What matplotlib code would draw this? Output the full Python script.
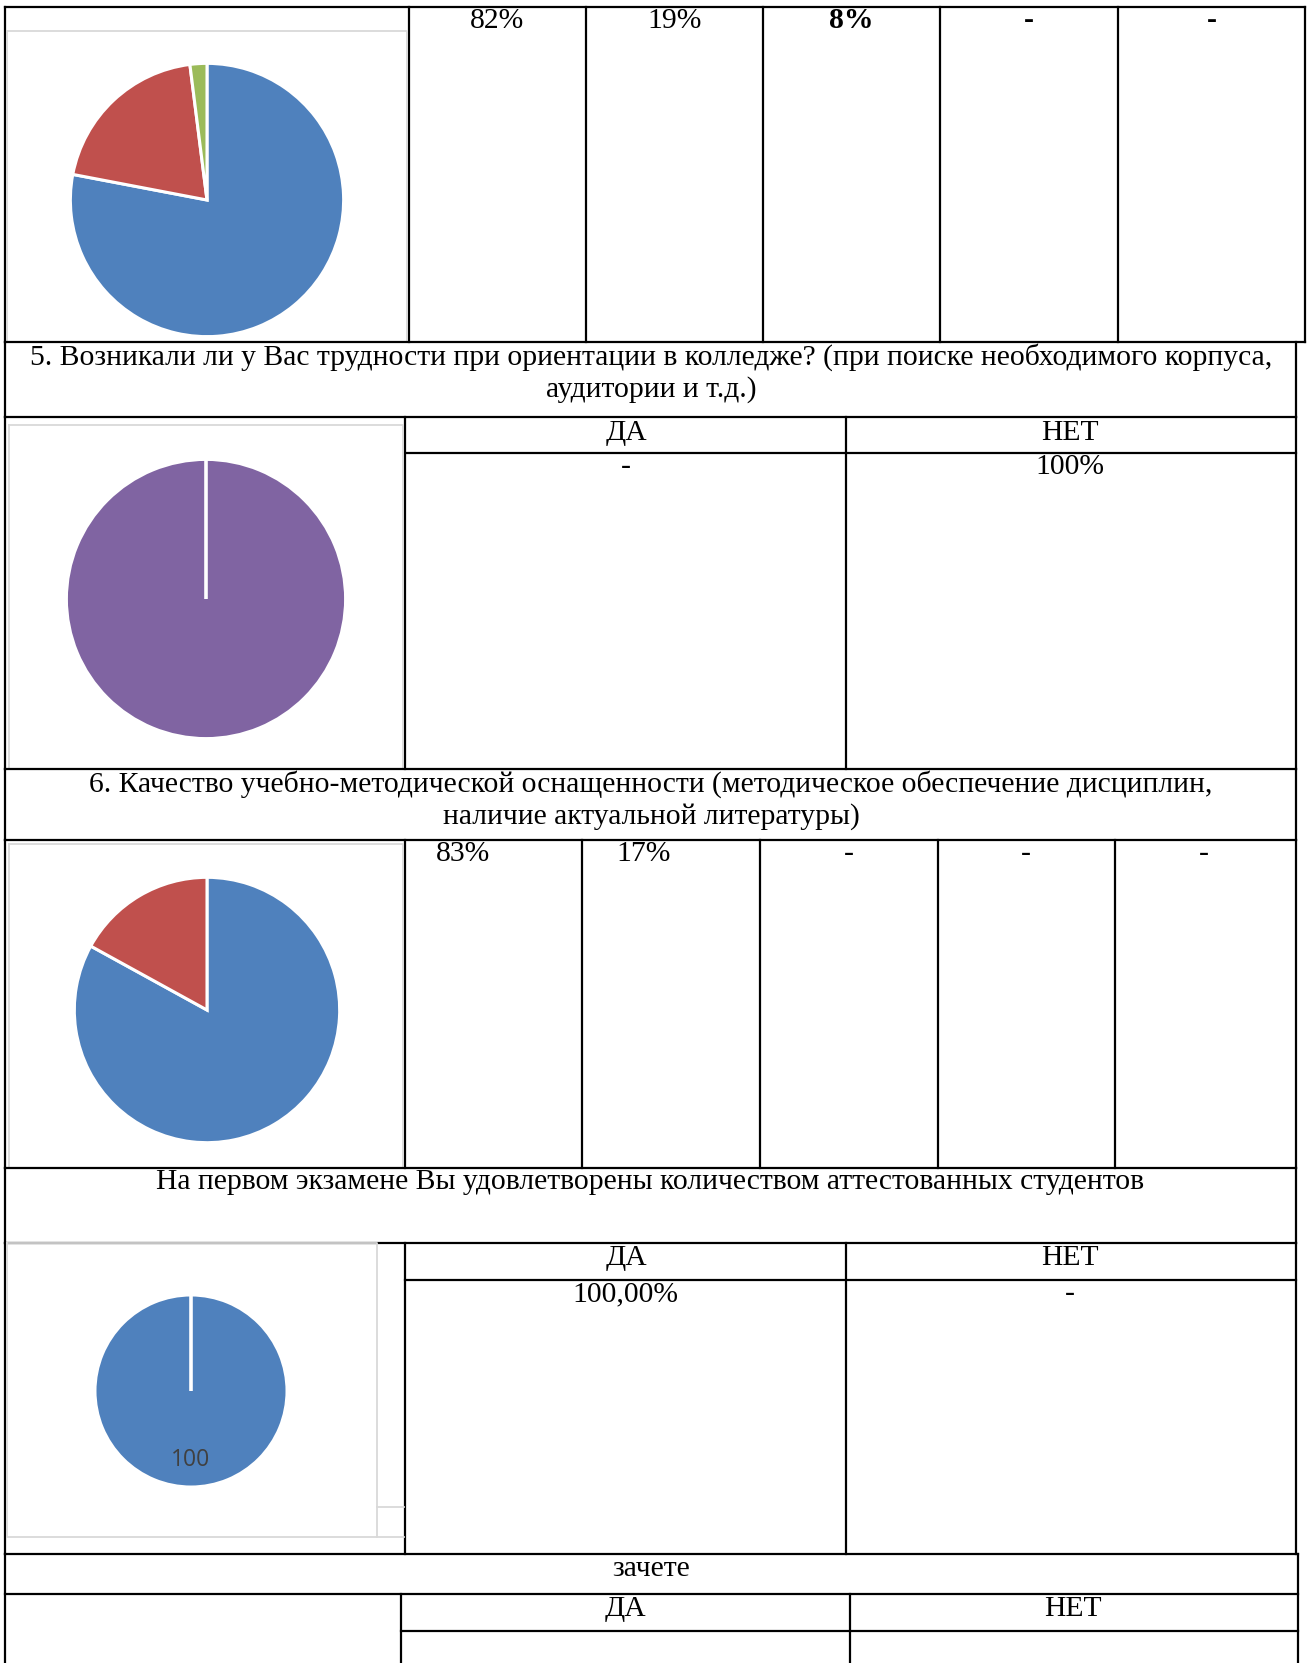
import matplotlib
matplotlib.use('Agg')
import matplotlib.pyplot as plt

W, H = 1310, 1663

# pie data
pie1_values = [78, 20, 2]
pie1_colors = ['#4F81BD', '#C0504D', '#9BBB59']
pie2_values = [100]
pie2_colors = ['#8064A2']
pie3_values = [83, 17]
pie3_colors = ['#4F81BD', '#C0504D']
pie4_values = [100]
pie4_colors = ['#4F81BD']
pie4_labels = ['100']

# table texts
row1_cells = ['82%', '19%', '8%', '-', '-']
row1_bold = [False, False, True, True, True]
q5_lines = ['5. Возникали ли у Вас трудности при ориентации в колледже? (при поиске необходимого корпуса,',
            'аудитории и т.д.)']
q5_header = ['ДА', 'НЕТ']
q5_cells = ['-', '100%']
q6_lines = ['6. Качество учебно-методической оснащенности (методическое обеспечение дисциплин,',
            'наличие актуальной литературы)']
q6_cells = ['83%', '17%', '-', '-', '-']
exam_title = 'На первом экзамене Вы удовлетворены количеством аттестованных студентов'
exam_header = ['ДА', 'НЕТ']
exam_cells = ['100,00%', '-']
credit_title = 'зачете'
credit_header = ['ДА', 'НЕТ']

SERIF = 'Liberation Serif'
FS = 21.3
LW = 1.6
GRAY = '#D9D9D9'
DY = 2  # text baseline nudge

fig = plt.figure(figsize=(W / 100, H / 100), dpi=100)
ax = fig.add_axes([0, 0, 1, 1])
ax.set_xlim(0, W)
ax.set_ylim(H, 0)
ax.axis('off')


def hline(y, x0, x1, c='black', lw=LW):
    ax.plot([x0, x1], [y, y], color=c, lw=lw, solid_capstyle='projecting')


def vline(x, y0, y1, c='black', lw=LW):
    ax.plot([x, x], [y0, y1], color=c, lw=lw, solid_capstyle='projecting')


def box(x0, y0, x1, y1, c=GRAY, lw=1.3):
    ax.plot([x0, x1, x1, x0, x0], [y0, y0, y1, y1, y0], color=c, lw=lw)


def txt(x, y, s, bold=False, ha='center', size=FS):
    ax.text(x, y + DY, s, ha=ha, va='center', fontsize=size, family=SERIF,
            fontweight='bold' if bold else 'normal')


def pie(cx, cy, r, values, colors, labels=None):
    pa = fig.add_axes([(cx - r) / W, 1 - (cy + r) / H, 2 * r / W, 2 * r / H])
    pa.pie(values, colors=colors, startangle=90, counterclock=False,
           wedgeprops=dict(edgecolor='white', linewidth=2.2))
    if len(values) == 1:
        # the single slice keeps its white seam at the start angle
        pa.plot([0, 0], [0, 1], color='white', lw=2.6, solid_capstyle='butt')
    if labels:
        pa.text(0, -0.72, labels[0], ha='center', va='center', fontsize=16.5,
                family='Open Sans', color='#404040')
    pa.set_xlim(-1.01, 1.01)
    pa.set_ylim(-1.01, 1.01)
    pa.set_aspect('equal')
    pa.axis('off')


# section 1: pie + five columns
cols1 = [409, 585.5, 763, 940, 1118, 1305]
hline(7, 5, 1305)
vline(5, 7, 342)
for x in cols1:
    vline(x, 7, 342)
box(7, 31, 407, 342)
for i, s in enumerate(row1_cells):
    txt((cols1[i] + cols1[i + 1]) / 2, 19, s, bold=row1_bold[i])
pie(207, 200, 138, pie1_values, pie1_colors)

# question 5
hline(342, 5, 1305)
vline(5, 342, 417)
vline(1296, 342, 417)
txt(651, 355, q5_lines[0])
txt(651, 388, q5_lines[1])

# section 2: ДА / НЕТ
hline(417, 5, 1296)
vline(5, 417, 769)
vline(405, 417, 769)
vline(846, 417, 769)
vline(1296, 417, 769)
hline(453, 405, 1296)
box(9, 425, 403, 769)
txt(626, 431, q5_header[0])
txt(1070, 431, q5_header[1])
txt(626, 465, q5_cells[0])
txt(1070, 465, q5_cells[1])
pie(206, 599, 141, pie2_values, pie2_colors)

# question 6
hline(769, 5, 1296)
vline(5, 769, 840)
vline(1296, 769, 840)
txt(651, 782, q6_lines[0])
txt(651, 815, q6_lines[1])

# section 3: pie + five columns
cols3 = [405, 582, 759.5, 938, 1115, 1296]
hline(840, 5, 1296)
vline(5, 840, 1168)
for x in cols3:
    vline(x, 840, 1168)
box(9, 844, 403, 1168)
q6_x = [463, 644, 849, 1026, 1204]
for x, s in zip(q6_x, q6_cells):
    txt(x, 852, s)
pie(207, 1010, 134, pie3_values, pie3_colors)

# exam question
hline(1168, 5, 1296)
vline(5, 1168, 1243)
vline(1296, 1168, 1243)
txt(650, 1180, exam_title)

# section 4: ДА / НЕТ
hline(1243, 5, 1296)
vline(5, 1243, 1554)
vline(405, 1243, 1554)
vline(846, 1243, 1554)
vline(1296, 1243, 1554)
hline(1280, 405, 1296)
box(7, 1243, 377, 1537)
ax.plot([377, 404], [1507, 1507], color=GRAY, lw=1.3)
ax.plot([377, 404], [1537, 1537], color=GRAY, lw=1.3)
txt(626, 1256, exam_header[0])
txt(1070, 1256, exam_header[1])
txt(625, 1292, exam_cells[0])
txt(1070, 1292, exam_cells[1])
pie(191, 1391, 97, pie4_values, pie4_colors, labels=pie4_labels)

# credit question
hline(1554, 5, 1298)
vline(5, 1554, 1663)
vline(1298, 1554, 1663)
txt(651, 1567, credit_title)
hline(1594, 5, 1298)
vline(401, 1594, 1663)
vline(850, 1594, 1663)
hline(1631, 401, 1298)
txt(625, 1607, credit_header[0])
txt(1073, 1607, credit_header[1])

fig.savefig('out.png', dpi=100)
